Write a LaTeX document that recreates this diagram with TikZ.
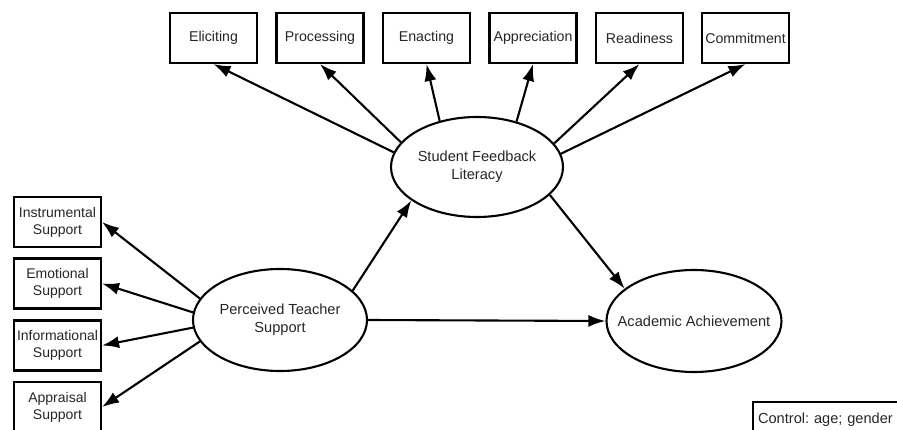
\documentclass[tikz,border=0pt]{standalone}
\usepackage{fontspec}
\setmainfont{Liberation Sans}
\usetikzlibrary{arrows.meta,shapes.geometric}
\frenchspacing
\begin{document}
\begin{tikzpicture}[x=1pt,y=-1pt,
  box/.style={draw, line width=2.1pt, rectangle, minimum width=87pt, minimum height=50pt, inner sep=0pt, font=\fontsize{14.2}{17}\selectfont, align=center, text=black!85},
  lbox/.style={box, font=\fontsize{14}{17}\selectfont},
  lat/.style={draw, line width=2.1pt, ellipse, inner sep=0pt},
  lbl/.style={font=\fontsize{14.6}{18}\selectfont, align=center, text=black!85},
  arr/.style={line width=2.1pt, -{Latex[length=17pt,width=12pt]}}]
\useasboundingbox (0,0) rectangle (897,430);
\clip (0,0) rectangle (897,430);
% latent variables
\node[lat, minimum width=172pt, minimum height=100pt, label={[lbl]center:Student Feedback\\Literacy}] (sfl) at (477,167) {};
\node[lat, minimum width=174pt, minimum height=102pt, label={[lbl]center:Perceived Teacher\\Support}] (pts) at (280,320) {};
\node[lat, minimum width=175pt, minimum height=102pt, label={[lbl]center:Academic Achievement}] (aa) at (694,321) {};
% top indicators
\node[box] (elic) at (213.5,38) {Eliciting};
\node[box] (proc) at (320,38) {Processing};
\node[box] (enac) at (426.5,38) {Enacting};
\node[box] (appr) at (533,38) {Appreciation};
\node[box] (read) at (639.5,38) {Readiness};
\node[box] (comm) at (745.5,38) {Commitment};
% left indicators
\node[lbox] (ins) at (57.5,222) {Instrumental\\Support};
\node[lbox] (emo) at (57.5,283.5) {Emotional\\Support};
\node[lbox] (inf) at (57.5,345.5) {Informational\\Support};
\node[lbox] (app) at (57.5,407) {Appraisal\\Support};
% control
\node[draw, line width=2.1pt, anchor=north west, minimum width=160pt, minimum height=36pt, text width=150pt, align=left, inner xsep=5pt, inner ysep=0pt, font=\fontsize{14.6}{18}\selectfont, text=black!85] (ctl) at (752,401) {Control: age; gender};
% arrows
\draw[arr] (sfl.170) -- (elic.south);
\draw[arr] (sfl.162) -- (proc.south);
\draw[arr] (sfl.129) -- (enac.south);
\draw[arr] (sfl.49.8) -- (appr.south);
\draw[arr] (sfl.17) -- (read.south);
\draw[arr] (sfl.9) -- (comm.south);
\draw[arr] (pts.165.5) -- (ins.east);
\draw[arr] (pts.175.4) -- (emo.east);
\draw[arr] (pts.185.3) -- (inf.east);
\draw[arr] (pts.195) -- (app.east);
\draw[arr] (pts.22.6) -- (sfl.207.6);
\draw[arr] (pts.east) -- (aa.west);
\draw[arr] (sfl.-21.7) -- (aa.155.8);
\end{tikzpicture}
\end{document}
